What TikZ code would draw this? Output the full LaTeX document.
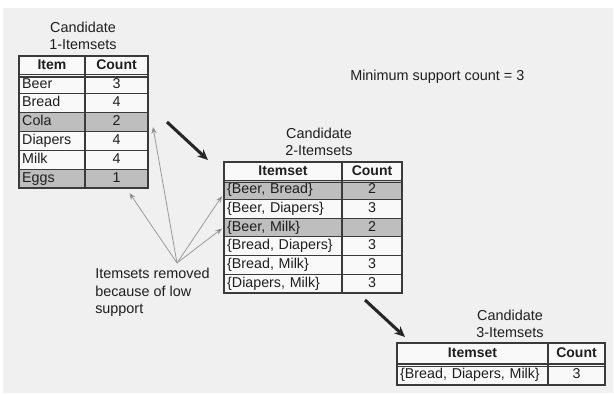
\documentclass[tikz,border=0pt]{standalone}
\usepackage{fontspec}
\setmainfont{Liberation Sans}
\usetikzlibrary{calc,arrows.meta}
\definecolor{bgc}{HTML}{F0F0F0}
\definecolor{cellc}{HTML}{F9F9F9}
\definecolor{shadec}{HTML}{BEBEBE}
\definecolor{linec}{HTML}{3A3A3A}
\definecolor{txtc}{HTML}{1E1E1E}
\definecolor{thinc}{HTML}{9A9A9A}
\tikzset{
  cell/.style={draw=linec, line width=0.85pt, inner ysep=0pt, outer sep=0pt,
    font=\fontsize{10.7pt}{12pt}\selectfont, text=txtc, text height=7.6pt, text depth=2pt, anchor=north west},
  lcell/.style={cell, align=left, inner xsep=2.4pt},
  ccell/.style={cell, align=center, inner xsep=0pt},
  hcell/.style={ccell, font=\fontsize{10.5pt}{12pt}\selectfont\bfseries},
  ttl/.style={align=center, font=\fontsize{10.8pt}{13pt}\selectfont, text=txtc, inner sep=0pt},
  lbl/.style={align=left, font=\fontsize{10.8pt}{13pt}\selectfont, text=txtc, inner sep=0pt},
  bigarrow/.style={line width=2.3pt, draw=black!85, -{Stealth[length=8pt,width=7pt]}},
  thinarrow/.style={line width=0.6pt, draw=thinc, -{Stealth[length=5pt,width=4pt,fill=black!80]}},
  dbl/.style={draw=linec, line width=0.85pt}
}
\begin{document}
\begin{tikzpicture}[x=0.75pt,y=-0.75pt]
\useasboundingbox (0,0) rectangle (614,394);
\fill[white] (0,0) rectangle (614,394);
\fill[bgc] (3,8) rectangle (613,393);

% ---------- Table 1 ----------
\node[ttl] (title1) at (83,36) {Candidate\\1-Itemsets};
\def\rha{18.857}
\node[hcell, minimum width=49.5pt, text width=49.5pt, minimum height=14.14pt, fill=cellc] (t1-0-1) at (19,56) {Item};
\node[hcell, minimum width=47.25pt, text width=47.25pt, minimum height=14.14pt, fill=cellc] (t1-0-2) at (85,56) {Count};
\foreach \n/\c/\f [count=\i] in {Beer/3/cellc, Bread/4/cellc, Cola/2/shadec, Diapers/4/cellc, Milk/4/cellc, Eggs/1/shadec}{
  \node[lcell, minimum width=49.5pt, text width=44.7pt, minimum height=14.14pt, fill=\f] (t1-\i-1) at (19,{56+\i*\rha}) {\n};
  \node[ccell, minimum width=47.25pt, text width=47.25pt, minimum height=14.14pt, fill=\f] (t1-\i-2) at (85,{56+\i*\rha}) {\c};
}
\draw[dbl] ($(t1-0-1.south west)+(0,2.2)$) -- ($(t1-0-2.south east)+(0,2.2)$);

% ---------- Table 2 ----------
\node[ttl] (title2) at (319,142) {Candidate\\2-Itemsets};
\def\rhb{18.714}
\node[hcell, minimum width=88.5pt, text width=88.5pt, minimum height=14.04pt, fill=cellc] (t2-0-1) at (224,162) {Itemset};
\node[hcell, minimum width=45pt, text width=45pt, minimum height=14.04pt, fill=cellc] (t2-0-2) at (342,162) {Count};
\foreach \n/\c/\f [count=\i] in {{\{Beer, Bread\}}/2/shadec, {\{Beer, Diapers\}}/3/cellc, {\{Beer, Milk\}}/2/shadec, {\{Bread, Diapers\}}/3/cellc, {\{Bread, Milk\}}/3/cellc, {\{Diapers, Milk\}}/3/cellc}{
  \node[lcell, minimum width=88.5pt, text width=83.7pt, minimum height=14.04pt, fill=\f] (t2-\i-1) at (224,{162+\i*\rhb}) {\n};
  \node[ccell, minimum width=45pt, text width=45pt, minimum height=14.04pt, fill=\f] (t2-\i-2) at (342,{162+\i*\rhb}) {\c};
}
\draw[dbl] ($(t2-0-1.south west)+(0,2.2)$) -- ($(t2-0-2.south east)+(0,2.2)$);

% ---------- Table 3 ----------
\node[ttl] (title3) at (510,324) {Candidate\\3-Itemsets};
\node[hcell, minimum width=113.25pt, text width=113.25pt, minimum height=15.75pt, fill=cellc] (t3-0-1) at (397,343) {Itemset};
\node[hcell, minimum width=42.75pt, text width=42.75pt, minimum height=15.75pt, fill=cellc] (t3-0-2) at (548,343) {Count};
\node[lcell, minimum width=113.25pt, text width=108.45pt, minimum height=15.75pt, fill=cellc] (t3-1-1) at (397,364) {\{Bread, Diapers, Milk\}};
\node[ccell, minimum width=42.75pt, text width=42.75pt, minimum height=15.75pt, fill=cellc] (t3-1-2) at (548,364) {3};
\draw[dbl] ($(t3-0-1.south west)+(0,2.2)$) -- ($(t3-0-2.south east)+(0,2.2)$);

% ---------- Labels ----------
\node[lbl, anchor=west] (minsup) at (350,77) {Minimum support count = 3};
\node[lbl, anchor=north west] (removed) at (95,268) {Itemsets removed\\because of low\\support};

% ---------- Thin arrows ----------
\coordinate (apex) at (177,263);
\draw[thinarrow] (apex) -- ($(t1-3-2.east)+(5,5)$);
\draw[thinarrow] (apex) -- ($(t1-6-2.south)+(13,5)$);
\draw[thinarrow] (apex) -- ($(t2-1-1.west)+(-2,6)$);
\draw[thinarrow] (apex) -- ($(t2-3-1.west)+(-2,1)$);

% ---------- Thick arrows ----------
\coordinate (a1s) at (167,122);
\coordinate (a1e) at (208,160);
\coordinate (a2s) at (365,300);
\coordinate (a2e) at (405,337);
\draw[bigarrow] (a1s) -- (a1e);
\draw[bigarrow] (a2s) -- (a2e);
\end{tikzpicture}
\end{document}
